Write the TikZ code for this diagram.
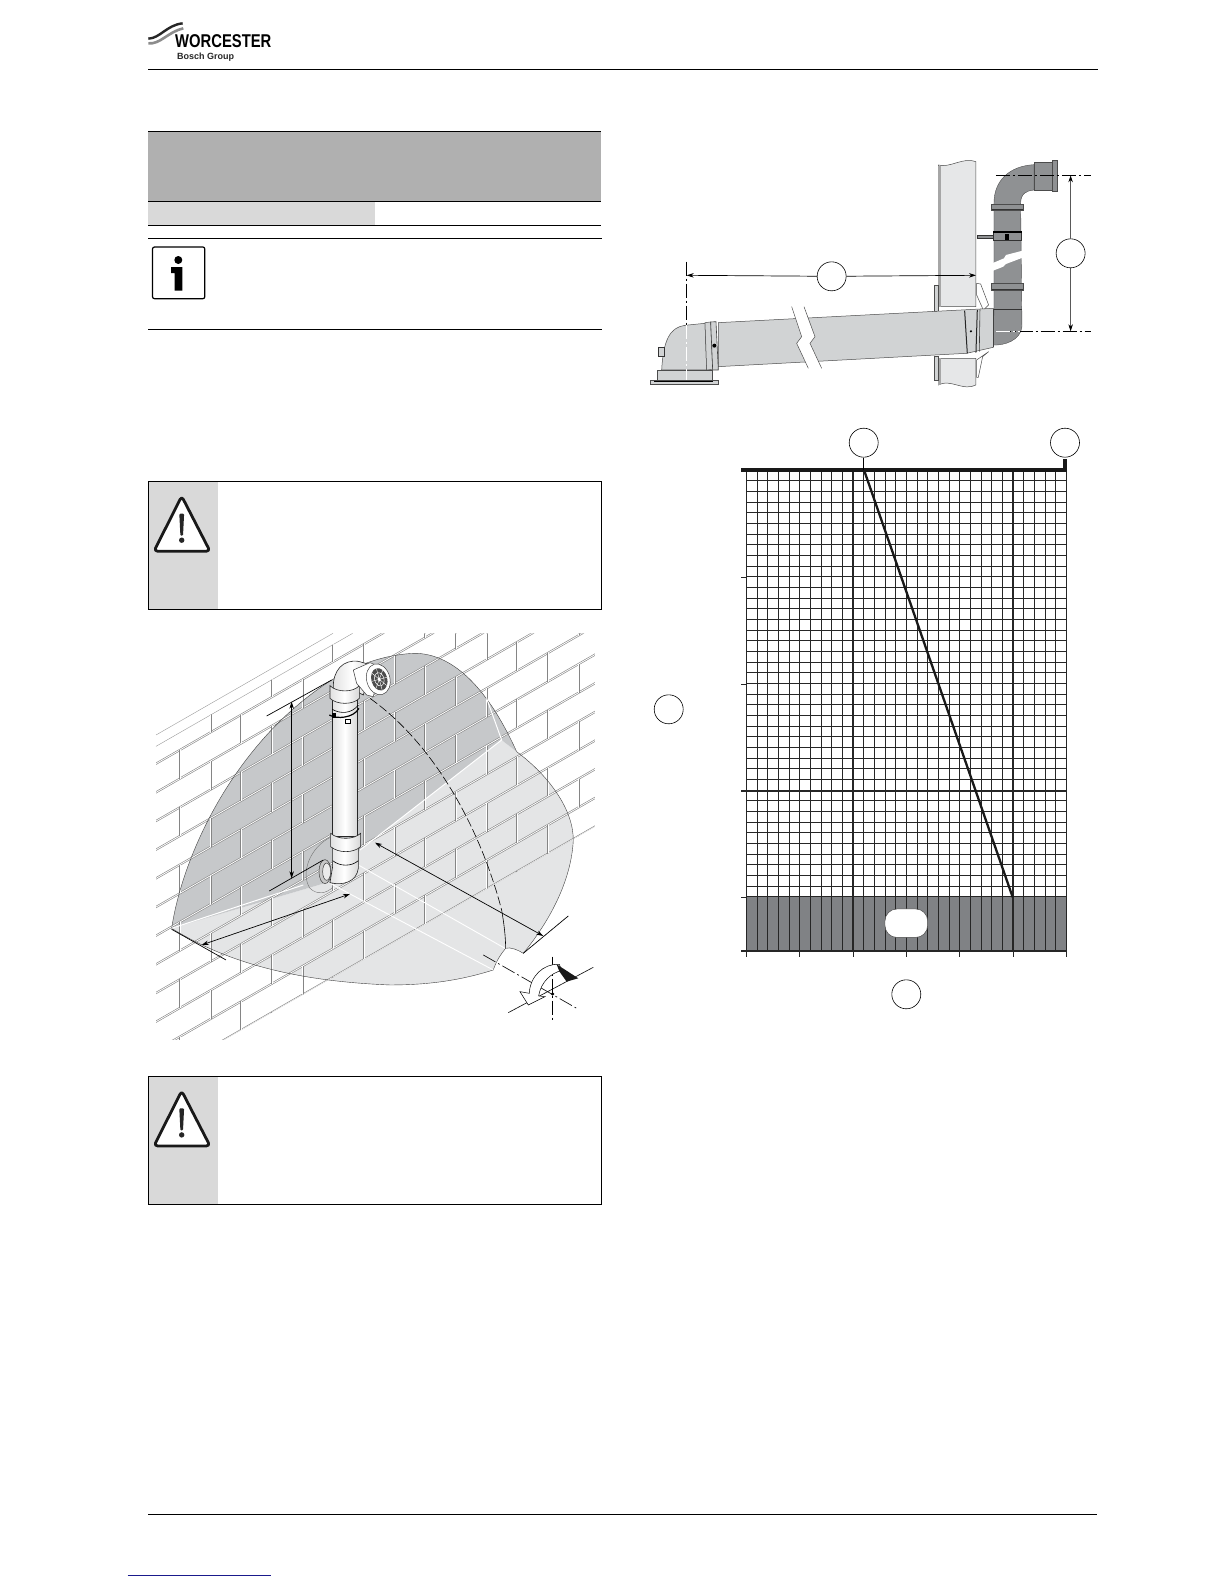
\documentclass[tikz,border=0pt]{standalone}
\usepackage{fontspec}
\setmainfont{Liberation Sans}
\usepackage{xcolor}
\usepackage{tikz}
\usetikzlibrary{arrows.meta, calc}

\definecolor{headgrey}{HTML}{B0B0B0}
\definecolor{rowgrey}{HTML}{D9D9D9}
\definecolor{wallgrey}{HTML}{E6E7E8}
\definecolor{flueskin}{HTML}{D1D3D4}
\definecolor{darkflue}{HTML}{8F9193}
\definecolor{bandgrey}{HTML}{808285}
\definecolor{zonedark}{HTML}{C6C8CA}
\definecolor{zonelight}{HTML}{E4E5E6}

\begin{document}
\begin{tikzpicture}[x=1pt, y=-1pt,
    rulebar/.style={line width=1.2pt},
    callout/.style={circle, draw, fill=white, line width=.6pt, minimum size=29pt, inner sep=0pt},
    arrow/.style={->, >={Stealth[length=7pt,width=4.5pt]}, line width=.7pt},
    dimline/.style={line width=.7pt, dash pattern=on 14pt off 3pt on 2pt off 3pt},
    gridline/.style={line width=.7pt, black!85},
    majorline/.style={line width=1.5pt, black!85},
    brick/.style={draw=black!48, double=white, double distance=.8pt, line width=.6pt},
    skin/.style={draw=black!75, line width=.5pt},
    flue/.style={left color=black!12, right color=black!16, middle color=white, draw=black!85, line width=.6pt}
]
\useasboundingbox (0,0) rectangle (1224,1584);

% Header
\begin{scope}[shift={(130,10)}, scale=0.3333]
    \draw[line width=2.4pt, black!85] (55,86) .. controls (90,85) and (110,45) .. (158,40);
    \draw[line width=2.6pt, black!45] (55,100) .. controls (90,104) and (115,65) .. (160,55);
\end{scope}
\node[inner sep=0pt, anchor=west, font=\fontsize{18.5}{20}\selectfont\bfseries] (brand) at (175,41) {\scalebox{.8}[1]{WORCESTER}};
\node[inner sep=0pt, anchor=west, font=\fontsize{9}{10}\selectfont\bfseries, black!85] (group) at (177,57) {Bosch Group};
\draw[rulebar] (148,69.5) -- (1098,69.5);

% Title table
\fill[headgrey] (148,131.5) rectangle (601,201);
\fill[rowgrey] (148,201) rectangle (375,225);
\draw[rulebar, line width=.8pt] (148,131.5) -- (601,131.5);
\draw[rulebar, line width=.8pt] (148,201.3) -- (601,201.3);
\draw[rulebar, line width=.8pt] (148,225) -- (601,225);

% Info note
\draw[rulebar, line width=.8pt] (148,238.5) -- (602,238.5);
\draw[line width=1.2pt, rounded corners=2pt] (152.5,247) rectangle (204.8,298.7);
\fill (178.3,260) circle (4);
\fill (171,267) -- (182.3,267) -- (182.3,290.7) -- (174.7,290.7) -- (174.7,273) -- (171,273) -- cycle;
\draw[rulebar, line width=.8pt] (148,329) -- (602,329);

% Warning boxes
\foreach \y in {481.7,1076.4} {
    \fill[rowgrey] (148.3,\y) rectangle (218,\y+127.6);
    \draw[line width=.9pt] (148.3,\y) rectangle (601.7,\y+127.6);
    \draw[line width=2.8pt, black!90, fill=white, rounded corners=3.5pt, line join=round] (181.7,\y+14.5) -- (210,\y+69.5) -- (154,\y+69.5) -- cycle;
    \fill[black!85, rounded corners=1pt] (179.3,\y+32) -- (184.1,\y+32) -- (183,\y+54) -- (180.4,\y+54) -- cycle;
    \fill[black!85] (181.7,\y+58.5) circle (2.7);
}

% Footer
\draw[rulebar, line width=1pt] (148,1514) -- (1097,1514);
\draw[line width=.8pt, color={rgb,255:red,26;green,26;blue,140}] (127.5,1575.3) -- (270.5,1575.3);

% Wall and flue side view
\begin{scope}[shift={(630,140)}, scale=0.3333]
    % dark vertical section
    \fill[darkflue, draw=black!70, line width=.4pt] (1092,190) .. controls (1092,120) and (1140,78) .. (1212,74)
        -- (1212,150) .. controls (1190,152) and (1172,160) .. (1172,190)
        -- (1176,560) .. controls (1172,600) and (1125,618) .. (1085,615) -- (1092,520) -- cycle;
    \fill[darkflue, draw=black!70, line width=.5pt] (1212,68) rectangle (1268,152);
    \fill[darkflue, draw=black!70, line width=.5pt] (1268,60) rectangle (1281,155);
    \fill[darkflue, draw=black!70, line width=.5pt] (1085,193) rectangle (1180,212);
    \fill[darkflue, draw=black!70, line width=.5pt] (1085,430) rectangle (1180,450);
    \draw[line width=1pt, black!80] (1085,210) -- (1180,210);
    \draw[line width=1pt, black!80] (1085,448) -- (1180,448);
    \draw[line width=1pt, black!80] (1092,510) -- (1176,510);
    % wall clamp
    \fill[darkflue, draw=black!80, line width=.4pt] (1042,285) rectangle (1090,296);
    \fill[darkflue, draw=black!80, line width=.5pt] (1090,278) rectangle (1175,302);
    \draw[line width=1.5pt] (1090,276) -- (1175,276);
    \fill (1125,283) rectangle (1136,300);
    % pipe break
    \fill[white] (1082,372) -- (1122,355) -- (1128,345) -- (1186,330) -- (1186,350) -- (1128,372) -- (1120,380) -- (1082,395) -- cycle;
    % wall
    \fill[wallgrey, draw=black!70, line width=.5pt] (925,75) .. controls (960,85) and (1000,50) .. (1038,65) -- (1038,500) -- (925,500) -- cycle;
    \fill[wallgrey, draw=black!70, line width=.5pt] (925,655) -- (1038,655) -- (1038,735) .. controls (1000,755) and (960,715) .. (925,735) -- cycle;
    \fill[black!35] (925,78) rectangle (932,500);
    \fill[black!35] (925,655) rectangle (932,735);
    % plates
    \fill[flueskin, draw=black!70, line width=.4pt] (912,435) rectangle (925,515);
    \fill[flueskin, draw=black!70, line width=.4pt] (912,650) rectangle (925,720);
    \fill[white, draw=black!70, line width=.5pt] (1040,430) -- (1052,432) -- (1076,495) -- (1060,510) -- (1040,465) -- cycle;
    \fill[white, draw=black!70, line width=.5pt] (1040,660) -- (1076,635) -- (1058,650) -- (1045,712) -- (1040,712) -- cycle;
    % sloped flue
    \fill[flueskin, draw=black!70, line width=.5pt] (265,548) -- (1090,505) -- (1090,622) -- (1010,640) -- (265,680) -- cycle;
    \fill[flueskin, draw=black!70, line width=.5pt] (95,690) .. controls (100,600) and (120,562) .. (165,556) -- (225,550) -- (230,690) -- cycle;
    \fill[flueskin, draw=black!70, line width=.5pt] (225,548) -- (242,546) -- (248,688) -- (230,690) -- cycle;
    \fill[flueskin, draw=black!75, line width=.6pt] (242,546) -- (258,545) -- (265,690) -- (248,690) -- cycle;
    \fill[flueskin, draw=black!70, line width=.5pt] (82,692) rectangle (247,722);
    \fill[flueskin, draw=black!70, line width=.4pt] (60,722) rectangle (265,732);
    \draw[line width=1pt] (72,725) -- (250,725);
    \fill[flueskin, draw=black!80, line width=.5pt] (84,622) rectangle (102,650);
    \fill (253,617) circle (6);
    \fill (1023,574) circle (3.5);
    % joint at the wall
    \draw[line width=1pt, black!85] (1004,512) -- (1012,640);
    \draw[line width=1pt, black!85] (1042,510) -- (1038,638);
    \draw[line width=.6pt, black!75] (1050,508) -- (1048,635);
    \draw[line width=.6pt, black!75] (1090,508) -- (1090,622);
    % flue break
    \fill[white] (485,500) -- (520,500) -- (555,590) -- (540,610) -- (575,685) -- (535,685) -- (500,610) -- (515,590) -- cycle;
    \draw[line width=.5pt, black!70] (485,500) -- (515,590) -- (500,610) -- (535,685);
    \draw[line width=.5pt, black!70] (522,500) -- (555,590) -- (540,610) -- (575,685);
    % dimensions
    \node[callout] (dimA) at (605,409) {};
    \node[callout] (dimB) at (1322,340) {};
    \coordinate (dimAleft) at (170,406);
    \coordinate (dimAright) at (1038,406);
    \coordinate (dimBtop) at (1322,106);
    \coordinate (dimBbottom) at (1322,574);
    \draw[dimline] (170,365) -- (170,555);
    \draw[dimline, white] (170,555) -- (170,720);
    \draw[dimline] (1098,106) -- (1382,106);
    \draw[dimline] (1100,574) -- (1382,574);
    \draw[dimline, white] (1098,574) -- (1170,574);
    \draw[arrow] (dimA) -- (dimAleft);
    \draw[arrow] (dimA) -- (dimAright);
    \draw[arrow] (dimB) -- (dimBtop);
    \draw[arrow] (dimB) -- (dimBbottom);
\end{scope}

% Resistance chart
\fill[bandgrey] (746.3,897.3) rectangle (1066.3,950.7);
\foreach \i in {0,...,30}
    \draw[gridline] ({746.3+\i*10.667},470) -- ({746.3+\i*10.667},950.7);
\foreach \j in {0,...,40}
    \draw[gridline] (746.3,{470+\j*10.67}) -- (1066.3,{470+\j*10.67});
\foreach \x in {853,1012.7}
    \draw[majorline] (\x,470) -- (\x,950.7);
\foreach \y in {577.3,684.3,897.3}
    \draw[gridline] (741,\y) -- (746.3,\y);
\draw[majorline] (741,791) -- (1066.3,791);
\draw[majorline, line width=1.8pt] (741,950.7) -- (1066.3,950.7);
\draw[line width=3.4pt, black!90] (741,470) -- (1067,470);
\draw[line width=3.4pt, black!90] (1065,459) -- (1065,471.7);
\foreach \i in {0,...,6}
    \draw[gridline] ({746.3+\i*53.33},950.7) -- ({746.3+\i*53.33},957);
\draw[line width=2.3pt, black!90] (864,470) -- (1012.7,897.3);

\node[rounded corners=12pt, draw=black!70, fill=white, line width=.5pt, minimum width=42.7pt, minimum height=28.5pt, inner sep=0pt] (pill) at (906.3,923.2) {};

\node[callout] (flowtop) at (863.7,442.7) {};
\node[callout] (maxtop) at (1065,442.7) {};
\node[callout] (yaxis) at (668.7,709.3) {};
\node[callout] (xaxis) at (906.3,994.3) {};
\coordinate (flowfoot) at (863.7,470);
\draw[line width=.6pt] (flowtop) -- (flowfoot);

% Clearance zone on the brick wall
\begin{scope}[shift={(140,620)}, scale=0.3333]
    \fill[zonelight] (95,925) -- (570,785) -- (660,690) -- (1085,360) -- (1130,395)
        .. controls (1230,470) and (1300,570) .. (1300,660)
        .. controls (1295,770) and (1240,890) .. (1150,1000)
        .. controls (1135,990) and (1115,985) .. (1097,985)
        .. controls (1085,1000) and (1070,1020) .. (1060,1050)
        .. controls (950,1085) and (850,1095) .. (750,1095)
        .. controls (500,1085) and (280,1040) .. (95,925);
    \fill[zonedark] (95,925) .. controls (130,690) and (300,340) .. (600,165)
        .. controls (700,110) and (790,100) .. (830,100)
        .. controls (960,105) and (1060,240) .. (1130,395)
        -- (1085,360) -- (660,690) -- (570,785) -- cycle;
    % bricks
    \draw[black!40, line width=.4pt] (48,345) -- (579,40);
    \draw[black!40, line width=.4pt] (48,379) -- (638,40);
    \begin{scope}
        \clip (48,379) -- (638,40) -- (1365,40) -- (1365,620) -- (480,1129) -- (252,1260) -- (48,1260) -- cycle;
        \foreach \n in {0,...,11}
            \draw[brick] (0,{430+86*\n+28.75}) -- (1400,{430+86*\n-776.25});
        \foreach \k in {0,...,13}
            \foreach \n in {-1,...,12} {
                \pgfmathparse{int(mod(\n+\k+100,2))}
                \ifnum\pgfmathresult=0
                    \draw[brick] ({120+92*\k},{430+86*\n-.575*(70+92*\k)}) -- ({120+92*\k},{430+86*(\n+1)-.575*(70+92*\k)});
                \fi
            }
    \end{scope}
    % zone outline
    \draw[skin, line width=.4pt] (1130,395) .. controls (1230,470) and (1300,570) .. (1300,660)
        .. controls (1295,770) and (1240,890) .. (1150,1000);
    \draw[skin, line width=.4pt] (1097,985) .. controls (1110,980) and (1135,990) .. (1150,1000);
    \draw[skin, line width=.4pt] (1097,985) .. controls (1085,1000) and (1070,1020) .. (1060,1050)
        .. controls (950,1085) and (850,1095) .. (750,1095)
        .. controls (500,1085) and (280,1040) .. (95,925);
    \draw[skin, line width=.4pt] (95,925) .. controls (130,690) and (300,340) .. (600,165)
        .. controls (700,110) and (790,100) .. (830,100)
        .. controls (960,105) and (1060,240) .. (1130,395);
    % white folds
    \draw[white, line width=1pt] (1040,235) -- (1085,360) -- (660,690);
    \draw[white, line width=1pt] (95,925) -- (490,795);
    \draw[white, line width=.9pt] (655,735) -- (1095,985);
    \draw[white, line width=.9pt] (570,790) -- (1060,1050);
    % swing arc
    \draw[line width=.6pt, dash pattern=on 9pt off 3pt] (690,235) .. controls (880,370) and (1020,620) .. (1085,870);
    \draw[line width=.6pt] (1085,870) .. controls (1092,910) and (1097,950) .. (1097,985);
    % faint arc behind lower bend
    \draw[black!55, line width=.4pt] (575,650) .. controls (510,680) and (480,760) .. (510,805) .. controls (530,825) and (560,822) .. (580,800);
    % flue tube
    \draw[flue] (577,240) rectangle (653,650);
    \draw[skin, fill=black!22] (555,755) ellipse (18 and 36);
    \draw[skin, fill=black!8] (560,755) ellipse (12 and 26);
    \draw[flue] (578,680) -- (655,680) -- (655,745) .. controls (650,785) and (610,798) .. (570,788) -- (578,740) -- cycle;
    \draw[flue] (572,640) -- (572,680) .. controls (595,700) and (640,700) .. (662,680) -- (662,640) .. controls (640,660) and (595,660) .. (572,640) -- cycle;
    \draw[line width=.6pt] (578,722) .. controls (600,740) and (635,740) .. (655,722);
    % top bend and terminal
    \draw[flue] (580,205) .. controls (578,150) and (610,118) .. (655,124) -- (695,135) -- (670,225) -- (645,212) -- (640,222) -- (580,222) -- cycle;
    \draw[flue] (570,197) -- (570,235) .. controls (590,255) and (640,255) .. (658,235) -- (658,197) .. controls (640,218) and (590,218) .. (570,197) -- cycle;
    \draw[skin, fill=white] (640,150) -- (690,128) -- (720,140) -- (700,230) -- (680,225) -- (650,190) -- cycle;
    \draw[skin, fill=white, rotate around={15:(715,178)}] (715,178) ellipse (35 and 47);
    \begin{scope}[shift={(718,178)}, rotate=15]
        \fill[black!70] (0,0) ellipse (24 and 34);
        \foreach \a in {0,45,...,315}
            \draw[white, line width=.4pt] (0,0) -- ({24*cos(\a)},{34*sin(\a)});
        \draw[white, line width=.5pt] (0,0) ellipse (14 and 20);
        \fill[white] (0,0) ellipse (4 and 6);
    \end{scope}
    % clamp
    \draw[line width=1.2pt] (568,285) .. controls (590,298) and (640,295) .. (657,265);
    \draw[line width=.6pt] (577,268) .. controls (600,282) and (635,282) .. (655,255);
    \draw[line width=.6pt, fill=white] (615,298) rectangle (630,310);
    \fill (575,280) rectangle (587,295);
    % dimensions
    \coordinate (vtop) at (455,245);
    \coordinate (vbottom) at (455,775);
    \coordinate (sideA) at (185,975);
    \coordinate (sideB) at (630,822);
    \coordinate (frontA) at (705,668);
    \coordinate (frontB) at (1210,948);
    \coordinate (leadTopA) at (380,288);
    \coordinate (leadTopB) at (575,180);
    \coordinate (leadLowA) at (388,813);
    \coordinate (leadLowB) at (550,720);
    \coordinate (leadLeftA) at (95,928);
    \coordinate (leadLeftB) at (258,1020);
    \coordinate (leadRightA) at (1150,1000);
    \coordinate (leadRightB) at (1285,888);
    \draw[arrow, <->] (vtop) -- (vbottom);
    \draw[arrow, <->] (sideA) -- (sideB);
    \draw[arrow, <->] (frontA) -- (frontB);
    \draw[line width=.7pt] (leadTopA) -- (leadTopB);
    \draw[line width=.7pt] (leadLowA) -- (leadLowB);
    \draw[line width=.7pt] (leadLeftA) -- (leadLeftB);
    \draw[line width=.7pt] (leadRightA) -- (leadRightB);
    % rotation mark
    \draw[line width=.6pt] (1105,1178) -- (1360,1042);
    \draw[line width=.6pt, dash pattern=on 14pt off 3pt on 2pt off 3pt] (1030,1005) -- (1310,1165);
    \draw[line width=.6pt, dash pattern=on 14pt off 3pt on 2pt off 3pt] (1238,1010) -- (1238,1205);
    \draw[line width=.5pt, fill=white] (1168,1120) .. controls (1170,1070) and (1210,1030) .. (1258,1033)
        -- (1265,1052) .. controls (1235,1058) and (1203,1085) .. (1196,1128)
        -- (1215,1130) -- (1165,1155) -- (1140,1115) -- cycle;
    \fill[black!90] (1250,1033) -- (1315,1075) -- (1280,1085) -- (1258,1054) -- cycle;
    \fill (1238,1122) circle (5);
\end{scope}

\end{tikzpicture}
\end{document}
